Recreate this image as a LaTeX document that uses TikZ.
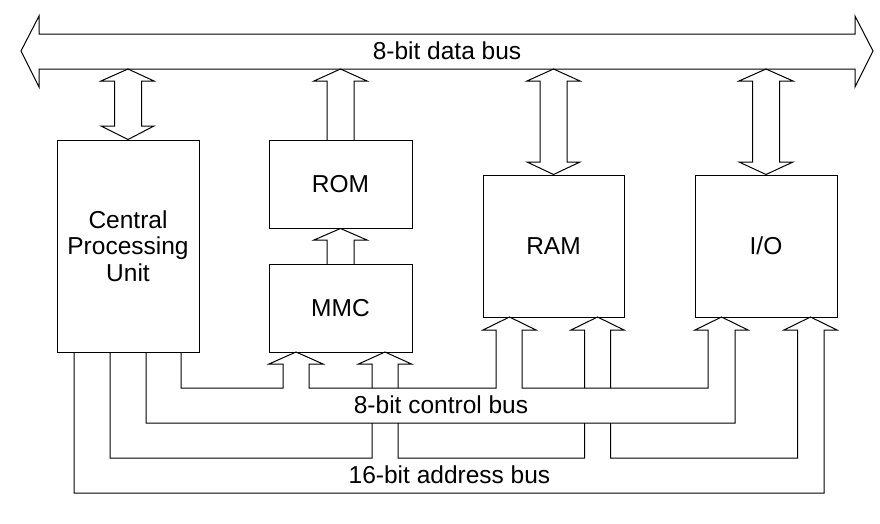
\documentclass[tikz,border=0pt]{standalone}
\usepackage{fontspec}
\setmainfont{Liberation Sans}
\begin{document}
\begin{tikzpicture}[x=1pt,y=-1pt,
  box/.style={draw, line width=1pt, inner sep=0pt, font=\fontsize{24.5}{26.5}\selectfont, align=center},
  bus/.style={draw, line width=1pt, line join=miter},
  lbl/.style={font=\fontsize{24.5}{26.5}\selectfont, inner sep=0pt}]
\useasboundingbox (0,0) rectangle (880,523);
% boxes
\node[box, minimum width=142pt, minimum height=212pt] (cpu) at (128,246) {Central\\Processing\\Unit};
\node[box, minimum width=143pt, minimum height=88pt] (rom) at (340.5,184) {ROM};
\node[box, minimum width=143pt, minimum height=88pt] (mmc) at (340.5,308) {MMC};
\node[box, minimum width=141pt, minimum height=142pt] (ram) at (553.5,246) {RAM};
\node[box, minimum width=142pt, minimum height=142pt] (io) at (766,246) {I/O};
% data bus
\draw[bus] (21,51) -- (39,16) -- (39,34) -- (855,34) -- (855,16) -- (873,51) -- (855,87) -- (855,69) -- (39,69) -- (39,87) -- cycle;
\node[lbl] (dlabel) at (447,51) {8-bit data bus};
% CPU <-> data bus
\draw[bus] (128,69) -- (154,81) -- (141.5,81) -- (141.5,126) -- (154,126) -- (cpu.north) -- (101,126) -- (114.5,126) -- (114.5,81) -- (101,81) -- cycle;
% ROM -> data bus
\draw[bus] (327,140) -- (327,81) -- (314,81) -- (340.5,69) -- (367,81) -- (354,81) -- (354,140);
% MMC -> ROM
\draw[bus] (327,264) -- (327,240) -- (314,240) -- (rom.south) -- (367,240) -- (354,240) -- (354,264);
% RAM <-> data bus
\draw[bus] (553.5,69) -- (580,81) -- (567,81) -- (567,162) -- (580,162) -- (ram.north) -- (527,162) -- (540,162) -- (540,81) -- (527,81) -- cycle;
% I/O <-> data bus
\draw[bus] (766,69) -- (793,81) -- (779.5,81) -- (779.5,162) -- (793,162) -- (io.north) -- (739,162) -- (752.5,162) -- (752.5,81) -- (739,81) -- cycle;
% control bus
\draw[bus] (181,352) -- (181,388) -- (283,388) -- (283,364) -- (269,364) -- (296,352) -- (323,364) -- (309,364) -- (309,388)
  -- (496,388) -- (496,330) -- (483,330) -- (509.5,317) -- (536,330) -- (522,330) -- (522,388)
  -- (708,388) -- (708,330) -- (695,330) -- (721.5,317) -- (748,330) -- (735,330) -- (735,423) -- (146,423) -- (146,352);
\node[lbl] (clabel) at (441,404.5) {8-bit control bus};
% address bus
\draw[bus] (110,352) -- (110,458) -- (372,458) -- (372,423)
  (372,388) -- (372,364) -- (358.5,364) -- (385,352) -- (411.5,364) -- (398,364) -- (398,388)
  (398,423) -- (398,458) -- (584.5,458) -- (584.5,423)
  (584.5,388) -- (584.5,330) -- (571,330) -- (597.5,317) -- (624,330) -- (610.5,330) -- (610.5,388)
  (610.5,423) -- (610.5,458) -- (797.5,458) -- (797.5,330) -- (784,330) -- (810.5,317) -- (837,330) -- (824,330) -- (824,493) -- (74,493) -- (74,352);
\node[lbl] (alabel) at (449.5,474.5) {16-bit address bus};
\end{tikzpicture}
\end{document}
